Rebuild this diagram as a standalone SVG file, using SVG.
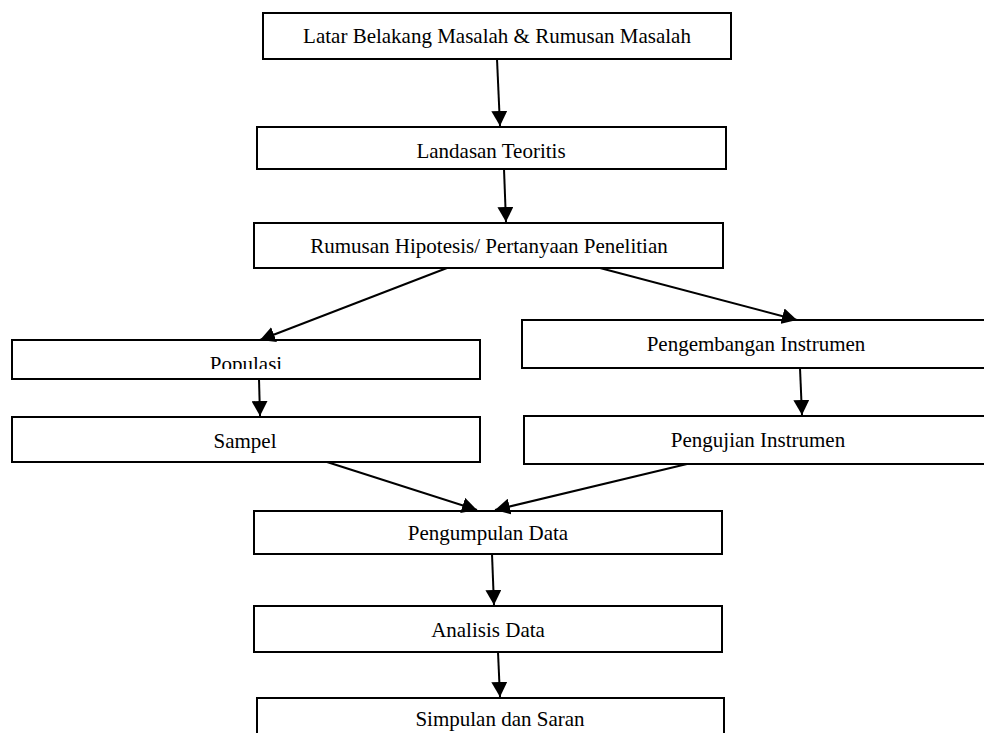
<svg xmlns="http://www.w3.org/2000/svg" width="984" height="733" viewBox="0 0 984 733">
<style>
rect.box { fill: #fff; stroke: #000; stroke-width: 2; }
text { font-family: "Liberation Serif", "Times New Roman", serif; font-size: 21px; fill: #000; text-anchor: middle; }
line.c { stroke: #000; stroke-width: 2; marker-end: url(#ah); }
</style>
<defs>
<marker id="ah" viewBox="0 0 15 16" refX="15" refY="8" markerWidth="15" markerHeight="16" markerUnits="userSpaceOnUse" orient="auto">
<path d="M0,0 L15,8 L0,16 z" fill="#000"/>
</marker>
<clipPath id="clipPop"><rect x="12" y="340" width="468" height="29"/></clipPath>
</defs>
<rect width="984" height="733" fill="#fff"/>
<g id="n1"><rect class="box" x="263" y="13" width="468" height="46"/><text x="497" y="43">Latar Belakang Masalah &amp; Rumusan Masalah</text></g>
<g id="n2"><rect class="box" x="257" y="127" width="469" height="42"/><text x="491" y="158">Landasan Teoritis</text></g>
<g id="n3"><rect class="box" x="254" y="223" width="469" height="45"/><text x="489" y="253">Rumusan Hipotesis/ Pertanyaan Penelitian</text></g>
<g id="n4"><rect class="box" x="12" y="340" width="468" height="39"/><text x="246" y="371" clip-path="url(#clipPop)">Populasi</text></g>
<g id="n5"><rect class="box" x="522" y="320" width="470" height="48"/><text x="756" y="351">Pengembangan Instrumen</text></g>
<g id="n6"><rect class="box" x="12" y="417" width="468" height="45"/><text x="245" y="448">Sampel</text></g>
<g id="n7"><rect class="box" x="524" y="416" width="468" height="48"/><text x="758" y="447">Pengujian Instrumen</text></g>
<g id="n8"><rect class="box" x="254" y="511" width="468" height="43"/><text x="488" y="540">Pengumpulan Data</text></g>
<g id="n9"><rect class="box" x="254" y="606" width="468" height="46"/><text x="488" y="637">Analisis Data</text></g>
<g id="n10"><rect class="box" x="257" y="698" width="467" height="50"/><text x="500" y="726">Simpulan dan Saran</text></g>
<g id="connectors">
<line class="c" x1="497" y1="59" x2="500" y2="126"/>
<line class="c" x1="504" y1="169" x2="506" y2="222"/>
<line class="c" x1="447" y1="268" x2="260" y2="340"/>
<line class="c" x1="600" y1="268" x2="797" y2="320"/>
<line class="c" x1="259" y1="379" x2="260" y2="416"/>
<line class="c" x1="800" y1="368" x2="802" y2="415"/>
<line class="c" x1="327" y1="462" x2="477" y2="510"/>
<line class="c" x1="687" y1="464" x2="495" y2="510"/>
<line class="c" x1="492" y1="554" x2="494" y2="605"/>
<line class="c" x1="498" y1="652" x2="500" y2="697"/>
</g>
</svg>
